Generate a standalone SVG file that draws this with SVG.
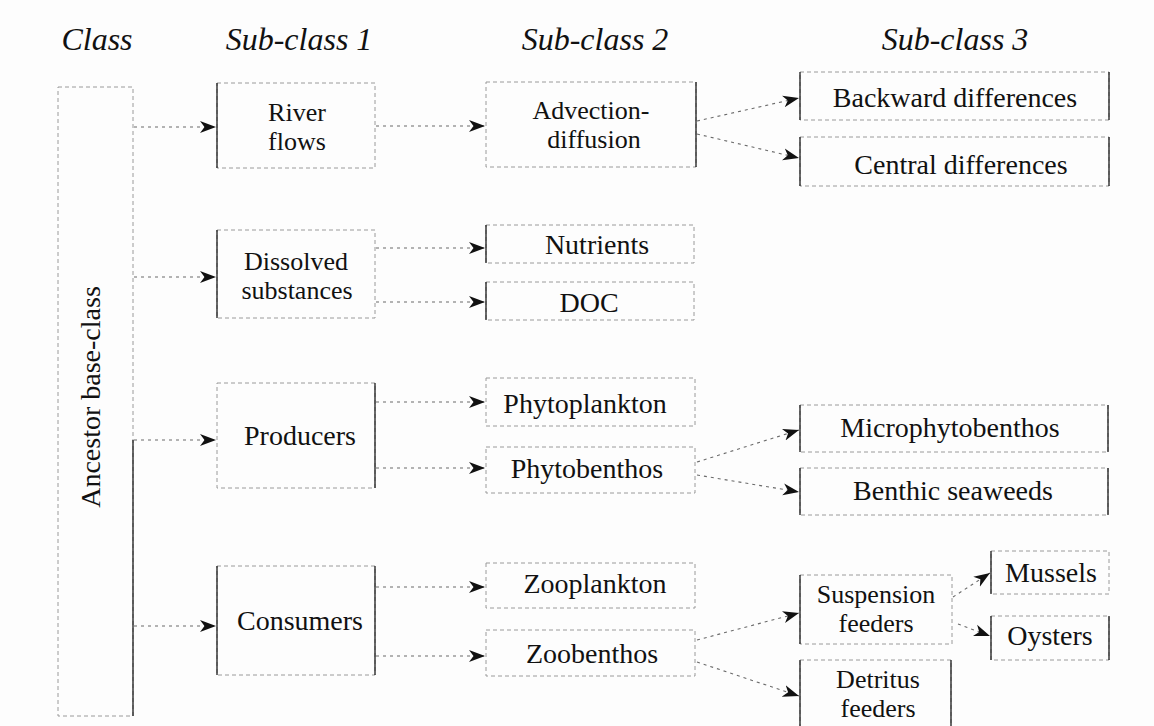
<svg xmlns="http://www.w3.org/2000/svg" width="1154" height="726" viewBox="0 0 1154 726">
<style>
  .bg { fill: #fdfdfd; }
  .box { fill: none; stroke: #9a9a9a; stroke-width: 1; stroke-dasharray: 4 3; }
  .edge { stroke: #2a2a2a; stroke-width: 1.4; fill: none; }
  .t { font-family: "Liberation Serif", "Times New Roman", serif; font-size: 28px; fill: #111; text-anchor: middle; }
  .t2 { font-family: "Liberation Serif", "Times New Roman", serif; font-size: 26px; fill: #111; text-anchor: middle; }
  .h { font-family: "Liberation Serif", "Times New Roman", serif; font-size: 32px; font-style: italic; fill: #111; text-anchor: middle; }
  .conn { stroke: #6a6a6a; stroke-width: 1.1; stroke-dasharray: 3 4; fill: none; marker-end: url(#ah); }
</style>
<defs>
  <marker id="ah" markerWidth="17" markerHeight="13" refX="16" refY="6.5" orient="auto" markerUnits="userSpaceOnUse">
    <path d="M0,0.5 L16,6.5 L0,12.5 L4.5,6.5 Z" fill="#111"/>
  </marker>
</defs>
<rect class="bg" x="0" y="0" width="1154" height="726"/>

<g id="headers">
  <text class="h" x="97" y="50">Class</text>
  <text class="h" x="299" y="50">Sub-class 1</text>
  <text class="h" x="595" y="50">Sub-class 2</text>
  <text class="h" x="955" y="50">Sub-class 3</text>
</g>

<g id="connectors">
  <line class="conn" x1="134" y1="127" x2="216" y2="127"/>
  <line class="conn" x1="134" y1="277" x2="216" y2="277"/>
  <line class="conn" x1="134" y1="440" x2="216" y2="440"/>
  <line class="conn" x1="134" y1="626" x2="216" y2="626"/>
  <line class="conn" x1="376" y1="126" x2="485" y2="126"/>
  <line class="conn" x1="376" y1="248" x2="485" y2="248"/>
  <line class="conn" x1="376" y1="302" x2="485" y2="302"/>
  <line class="conn" x1="376" y1="402" x2="485" y2="402"/>
  <line class="conn" x1="376" y1="468" x2="485" y2="468"/>
  <line class="conn" x1="376" y1="587" x2="485" y2="587"/>
  <line class="conn" x1="376" y1="656" x2="485" y2="656"/>
  <line class="conn" x1="697" y1="121" x2="799" y2="98"/>
  <line class="conn" x1="697" y1="134" x2="799" y2="158"/>
  <line class="conn" x1="697" y1="462" x2="799" y2="430"/>
  <line class="conn" x1="697" y1="475" x2="799" y2="492"/>
  <line class="conn" x1="697" y1="640" x2="799" y2="613"/>
  <line class="conn" x1="697" y1="662" x2="799" y2="696"/>
  <line class="conn" x1="953" y1="597" x2="990" y2="573"/>
  <line class="conn" x1="958" y1="624" x2="990" y2="636"/>
</g>

<g id="ancestor">
  <rect class="box" x="58" y="87" width="75" height="629"/>
  <line class="edge" x1="133" y1="440" x2="133" y2="716"/>
  <text class="t" transform="translate(100,397) rotate(-90)" x="0" y="0">Ancestor base-class</text>
</g>

<g id="river-flows">
  <rect class="box" x="217" y="83" width="158" height="85"/>
  <line class="edge" x1="217" y1="83" x2="217" y2="168"/>
  <text class="t2" x="297" y="121">River</text>
  <text class="t2" x="297" y="150">flows</text>
</g>
<g id="dissolved-substances">
  <rect class="box" x="217" y="230" width="158" height="88"/>
  <line class="edge" x1="217" y1="230" x2="217" y2="318"/>
  <text class="t2" x="296" y="270">Dissolved</text>
  <text class="t2" x="297" y="299">substances</text>
</g>
<g id="producers">
  <rect class="box" x="217" y="383" width="158" height="105"/>
  <line class="edge" x1="375" y1="383" x2="375" y2="488"/>
  <text class="t" x="300" y="445">Producers</text>
</g>
<g id="consumers">
  <rect class="box" x="217" y="566" width="158" height="109"/>
  <line class="edge" x1="217" y1="566" x2="217" y2="675"/>
  <line class="edge" x1="375" y1="566" x2="375" y2="675"/>
  <text class="t" x="300" y="630">Consumers</text>
</g>

<g id="advection-diffusion">
  <rect class="box" x="486" y="82" width="210" height="85"/>
  <line class="edge" x1="696" y1="82" x2="696" y2="167"/>
  <text class="t2" x="591" y="119">Advection-</text>
  <text class="t2" x="594" y="148">diffusion</text>
</g>
<g id="nutrients">
  <rect class="box" x="486" y="225" width="208" height="38"/>
  <line class="edge" x1="486" y1="225" x2="486" y2="263"/>
  <text class="t" x="597" y="254">Nutrients</text>
</g>
<g id="doc">
  <rect class="box" x="486" y="282" width="208" height="38"/>
  <line class="edge" x1="486" y1="282" x2="486" y2="320"/>
  <text class="t" x="589" y="312">DOC</text>
</g>
<g id="phytoplankton">
  <rect class="box" x="486" y="378" width="209" height="48"/>
  <text class="t" x="585" y="413">Phytoplankton</text>
</g>
<g id="phytobenthos">
  <rect class="box" x="486" y="447" width="209" height="46"/>
  <text class="t" x="587" y="478">Phytobenthos</text>
</g>
<g id="zooplankton">
  <rect class="box" x="486" y="563" width="209" height="45"/>
  <text class="t" x="595" y="593">Zooplankton</text>
</g>
<g id="zoobenthos">
  <rect class="box" x="486" y="630" width="209" height="46"/>
  <text class="t" x="592" y="663">Zoobenthos</text>
</g>

<g id="backward-differences">
  <rect class="box" x="800" y="72" width="309" height="48"/>
  <line class="edge" x1="800" y1="72" x2="800" y2="120"/>
  <line class="edge" x1="1109" y1="72" x2="1109" y2="120"/>
  <text class="t" x="955" y="107">Backward differences</text>
</g>
<g id="central-differences">
  <rect class="box" x="800" y="137" width="309" height="49"/>
  <line class="edge" x1="800" y1="137" x2="800" y2="186"/>
  <line class="edge" x1="1109" y1="137" x2="1109" y2="186"/>
  <text class="t" x="961" y="174">Central differences</text>
</g>
<g id="microphytobenthos">
  <rect class="box" x="800" y="405" width="308" height="47"/>
  <line class="edge" x1="800" y1="405" x2="800" y2="452"/>
  <line class="edge" x1="1108" y1="405" x2="1108" y2="452"/>
  <text class="t" x="950" y="437">Microphytobenthos</text>
</g>
<g id="benthic-seaweeds">
  <rect class="box" x="800" y="468" width="308" height="47"/>
  <line class="edge" x1="800" y1="468" x2="800" y2="515"/>
  <line class="edge" x1="1108" y1="468" x2="1108" y2="515"/>
  <text class="t" x="953" y="500">Benthic seaweeds</text>
</g>
<g id="suspension-feeders">
  <rect class="box" x="800" y="575" width="152" height="69"/>
  <line class="edge" x1="800" y1="575" x2="800" y2="644"/>
  <text class="t2" x="876" y="603">Suspension</text>
  <text class="t2" x="876" y="632">feeders</text>
</g>
<g id="detritus-feeders">
  <rect class="box" x="800" y="660" width="151" height="72"/>
  <line class="edge" x1="800" y1="660" x2="800" y2="726"/>
  <line class="edge" x1="951" y1="660" x2="951" y2="726"/>
  <text class="t2" x="878" y="688">Detritus</text>
  <text class="t2" x="878" y="717">feeders</text>
</g>
<g id="mussels">
  <rect class="box" x="991" y="551" width="118" height="43"/>
  <line class="edge" x1="991" y1="551" x2="991" y2="594"/>
  <text class="t" x="1051" y="582">Mussels</text>
</g>
<g id="oysters">
  <rect class="box" x="991" y="616" width="118" height="44"/>
  <line class="edge" x1="991" y1="616" x2="991" y2="660"/>
  <line class="edge" x1="1109" y1="616" x2="1109" y2="660"/>
  <text class="t" x="1050" y="645">Oysters</text>
</g>
</svg>
